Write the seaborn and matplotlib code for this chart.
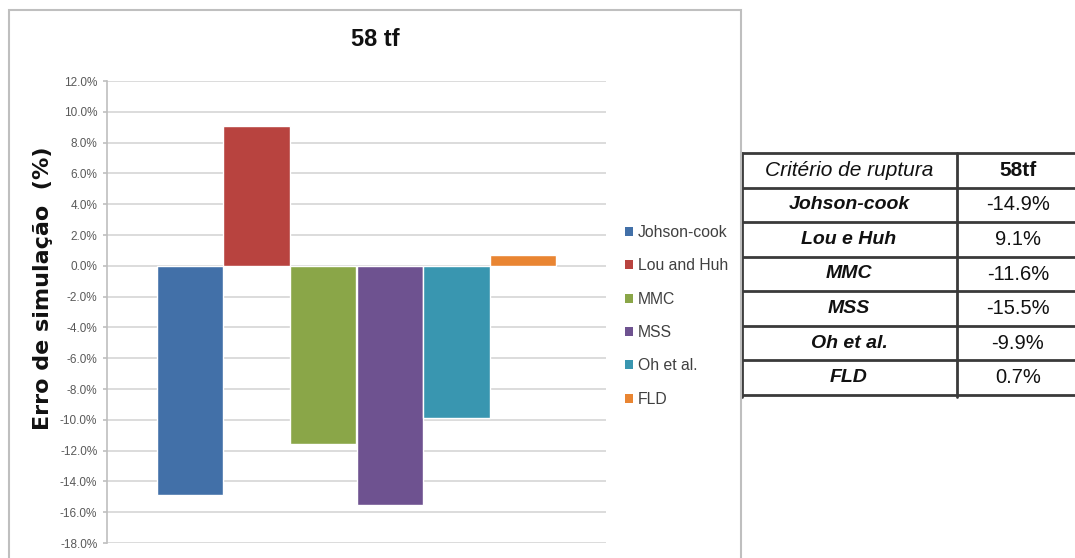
import matplotlib
matplotlib.use("Agg")
import matplotlib.pyplot as plt
import seaborn as sns
import pandas as pd
from matplotlib.patches import Rectangle, Patch

# Simulation error per fracture criterion (load case 58 tf), in percent
criteria = ["Johson-cook", "Lou and Huh", "MMC", "MSS", "Oh et al.", "FLD"]
errors = [-14.9, 9.1, -11.6, -15.5, -9.9, 0.7]
colors = ["#4270A8", "#B8433F", "#8AA648", "#6E5290", "#3996B0", "#E98532"]
y_ticks = list(range(-18, 13, 2))

# Side table
table_header = ["Critério de ruptura", "58tf"]
table_names = ["Johson-cook", "Lou e Huh", "MMC", "MSS", "Oh et al.", "FLD"]

sns.set_theme(style="white")
NARROW = ["Liberation Sans Narrow", "Liberation Sans", "DejaVu Sans"]
plt.rcParams["font.family"] = NARROW

W, H = 1075, 558
fig = plt.figure(figsize=(W / 100, H / 100), dpi=100)
fig.patch.set_facecolor("white")


def fx(px):
    return px / W


def fy(py):
    return 1 - py / H


# Chart frame
fig.add_artist(Rectangle((fx(9), fy(600)), fx(741) - fx(9), fy(10) - fy(600),
                         transform=fig.transFigure, fill=False,
                         edgecolor="#BFBFBF", lw=1.5))

ax = fig.add_axes([fx(107), fy(543), fx(606) - fx(107), fy(81) - fy(543)])
df = pd.DataFrame({"grupo": ["58 tf"] * len(criteria),
                   "criterio": criteria, "erro": errors})
sns.barplot(data=df, x="grupo", y="erro", hue="criterio", hue_order=criteria,
            palette=colors, saturation=1, width=0.8, errorbar=None,
            legend=False, ax=ax, zorder=3)

ax.set_ylim(-18, 12)
ax.set_xlim(-0.5, 0.5)
ax.set_yticks(y_ticks)
ax.set_yticklabels([f"{t:.1f}%" for t in y_ticks])
ax.set_xticks([])
ax.set_xlabel("")
ax.set_ylabel("")
ax.set_axisbelow(True)
ax.yaxis.grid(True, color="#D9D9D9", lw=1.3)
for side in ("top", "right", "bottom"):
    ax.spines[side].set_visible(False)
ax.spines["left"].set_color("#BFBFBF")
ax.spines["left"].set_linewidth(1.2)
ax.tick_params(axis="y", which="major", left=True, length=3, width=1.2,
               color="#BFBFBF", labelsize=8.5, labelcolor="#595959", pad=4)
ax.patch.set_alpha(0)

fig.text(fx(375), fy(40), "58 tf", ha="center", va="center",
         fontsize=17, fontweight="bold", color="#111111")
fig.text(fx(43), fy(288), "Erro de simulação  (%)", rotation=90,
         ha="center", va="center", fontsize=16, fontweight="bold",
         family="DejaVu Sans", color="#111111")

handles = [Patch(facecolor=c, edgecolor="none") for c in colors]
leg = fig.legend(handles, criteria, loc="upper left",
                 bbox_to_anchor=(fx(625), fy(225)), frameon=False,
                 fontsize=11.3, handlelength=0.5, handleheight=0.5,
                 handletextpad=0.3, labelspacing=1.17, borderpad=0,
                 borderaxespad=0)
for t in leg.get_texts():
    t.set_color("#404040")

# Table
tax = fig.add_axes([fx(742), fy(395), fx(1075) - fx(742), fy(153) - fy(395)])
tax.set_xlim(0, 333)
tax.set_ylim(7, 0)
tax.axis("off")
line_kw = dict(color="#3A3A3A", lw=2, clip_on=False)
for r in range(8):
    tax.plot([0, 333], [r, r], **line_kw)
tax.plot([0, 0], [0, 7.05], **line_kw)
tax.plot([215, 215], [0, 7.05], **line_kw)

tax.text(107, 0.5, table_header[0], ha="center", va="center", fontsize=15,
         style="italic", color="#111111")
tax.text(276, 0.5, table_header[1], ha="center", va="center", fontsize=15,
         fontweight="bold", color="#111111")
for i, (name, val) in enumerate(zip(table_names, errors), start=1):
    tax.text(107, i + 0.5, name, ha="center", va="center", fontsize=14,
             style="italic", fontweight="bold", color="#111111")
    tax.text(276, i + 0.5, f"{val:.1f}%", ha="center", va="center",
             fontsize=14.5, color="#111111")

fig.savefig("out.png", dpi=100)
